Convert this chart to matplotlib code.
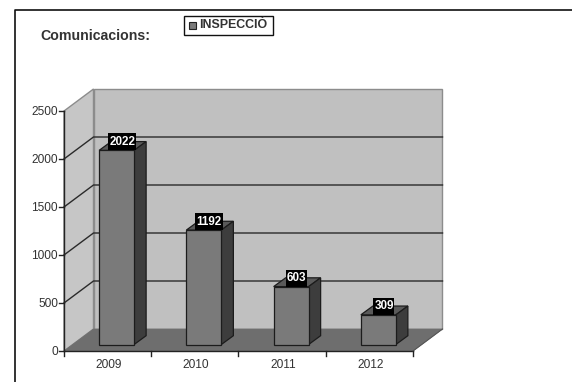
import matplotlib
matplotlib.use("Agg")
import matplotlib.pyplot as plt
from matplotlib.lines import Line2D
from matplotlib.patches import Polygon, Rectangle

plt.rcParams['font.family'] = ['Liberation Sans', 'DejaVu Sans']

years = ['2009', '2010', '2011', '2012']
values = [2022, 1192, 603, 309]
y_ticks = [0, 500, 1000, 1500, 2000, 2500]
title = 'Comunicacions:'
legend_label = 'INSPECCIÓ'

W, H = 572, 382
fig = plt.figure(figsize=(W / 100, H / 100), dpi=100, facecolor='white')

# outer frame of the chart, only top and left show in the crop
fig.add_artist(Line2D([15 / W, 15 / W, 1], [0, 1 - 10 / H, 1 - 10 / H], transform=fig.transFigure,
                      color='#111111', lw=1.2))

# front plane of the box
ax = fig.add_axes([64 / W, 1 - 351 / H, 349 / W, 240 / H])
ax.set_xlim(0, len(years))
ax.set_ylim(0, 2500)
ax.axis('off')

n = len(years)
top = y_ticks[-1]
px_x = n / 349
px_y = top / 240

# depth of the 3d box in data units
dx = 29.5 * px_x
dy = 22 * px_y


def poly(pts, fc, ec='none', lw=0.8, z=1):
    ax.add_patch(Polygon(pts, closed=True, fc=fc, ec=ec, lw=lw, zorder=z, clip_on=False))


# walls and floor
poly([(dx, dy), (n + dx, dy), (n + dx, top + dy), (dx, top + dy)], '#c0c0c0', '#8c8c8c', 1.0)
poly([(0, 0), (dx, dy), (dx, top + dy), (0, top)], '#c6c6c6', '#8c8c8c', 1.0)
poly([(0, 0), (n, 0), (n + dx, dy), (dx, dy)], '#6e6e6e', '#6e6e6e', 0.5, 2)

# gridlines on both walls
for t in y_ticks[1:-1]:
    ax.plot([0, dx, n + dx], [t, t + dy, t + dy], color='#2a2a2a', lw=1.0, zorder=3, clip_on=False)

# axis lines and ticks
ax.plot([0, 0], [0, top], color='#222222', lw=1.0, zorder=6, clip_on=False)
ax.plot([0, n], [0, 0], color='#222222', lw=1.0, zorder=6, clip_on=False)
ax.plot([n, n + dx], [0, dy], color='#555555', lw=0.8, zorder=6, clip_on=False)
for t in y_ticks:
    ax.plot([-5 * px_x, 0], [t, t], color='#222222', lw=1.0, zorder=6, clip_on=False)
    ax.text(-6 * px_x, t - 1 * px_y, str(t), ha='right', va='center', fontsize=8.6, color='#333333')
for i in range(n + 1):
    ax.plot([i, i], [0, -5 * px_y], color='#222222', lw=1.0, zorder=6, clip_on=False)

# bars
bar_w = 35 * px_x
ox = 9 * px_x
oy = 6.5 * px_y
bdx = 12 * px_x
bdy = 8.8 * px_y
for i, (year, v) in enumerate(zip(years, values)):
    x0 = i + 0.5 - bar_w / 2 + ox
    x1 = x0 + bar_w
    y0 = oy
    y1 = oy + v
    poly([(x0, y1), (x1, y1), (x1 + bdx, y1 + bdy), (x0 + bdx, y1 + bdy)], '#5a5a5a', '#1c1c1c', 0.9, 7)
    poly([(x1, y0), (x1 + bdx, y0 + bdy), (x1 + bdx, y1 + bdy), (x1, y1)], '#3d3d3d', '#1c1c1c', 0.9, 7)
    poly([(x0, y0), (x1, y0), (x1, y1), (x0, y1)], '#7a7a7a', '#1c1c1c', 0.9, 8)
    ax.text(i + 0.5 + 1 * px_x, -14 * px_y, year, ha='center', va='center', fontsize=8.6, color='#333333')
    # black label box sits on the top edge of the front face
    label = str(v)
    box_w = 7 * len(label) * px_x
    cx = (x0 + x1) / 2 + 5.5 * px_x
    ax.add_patch(Rectangle((cx - box_w / 2, y1), box_w, 17 * px_y, fc='black', ec='none', zorder=9, clip_on=False))
    ax.text(cx, y1 + 8.5 * px_y, label, ha='center', va='center', fontsize=8.4,
            fontweight='bold', color='white', zorder=10)

# title and legend
fig.text(40 / W, 1 - 36 / H, title, fontsize=10.2, fontweight='bold', color='#333333', va='center', ha='left')
fig.add_artist(Rectangle((183.5 / W, 1 - 35 / H), 89.5 / W, 19 / H, transform=fig.transFigure,
                         fc='white', ec='#111111', lw=1.0))
fig.add_artist(Rectangle((189 / W, 1 - 29 / H), 7 / W, 7 / H, transform=fig.transFigure,
                         fc='#7a7a7a', ec='#222222', lw=0.8))
fig.text(199 / W, 1 - 25.5 / H, legend_label, fontsize=8.9, fontweight='bold', color='#333333', va='center', ha='left')

fig.savefig('out.png', dpi=100)
